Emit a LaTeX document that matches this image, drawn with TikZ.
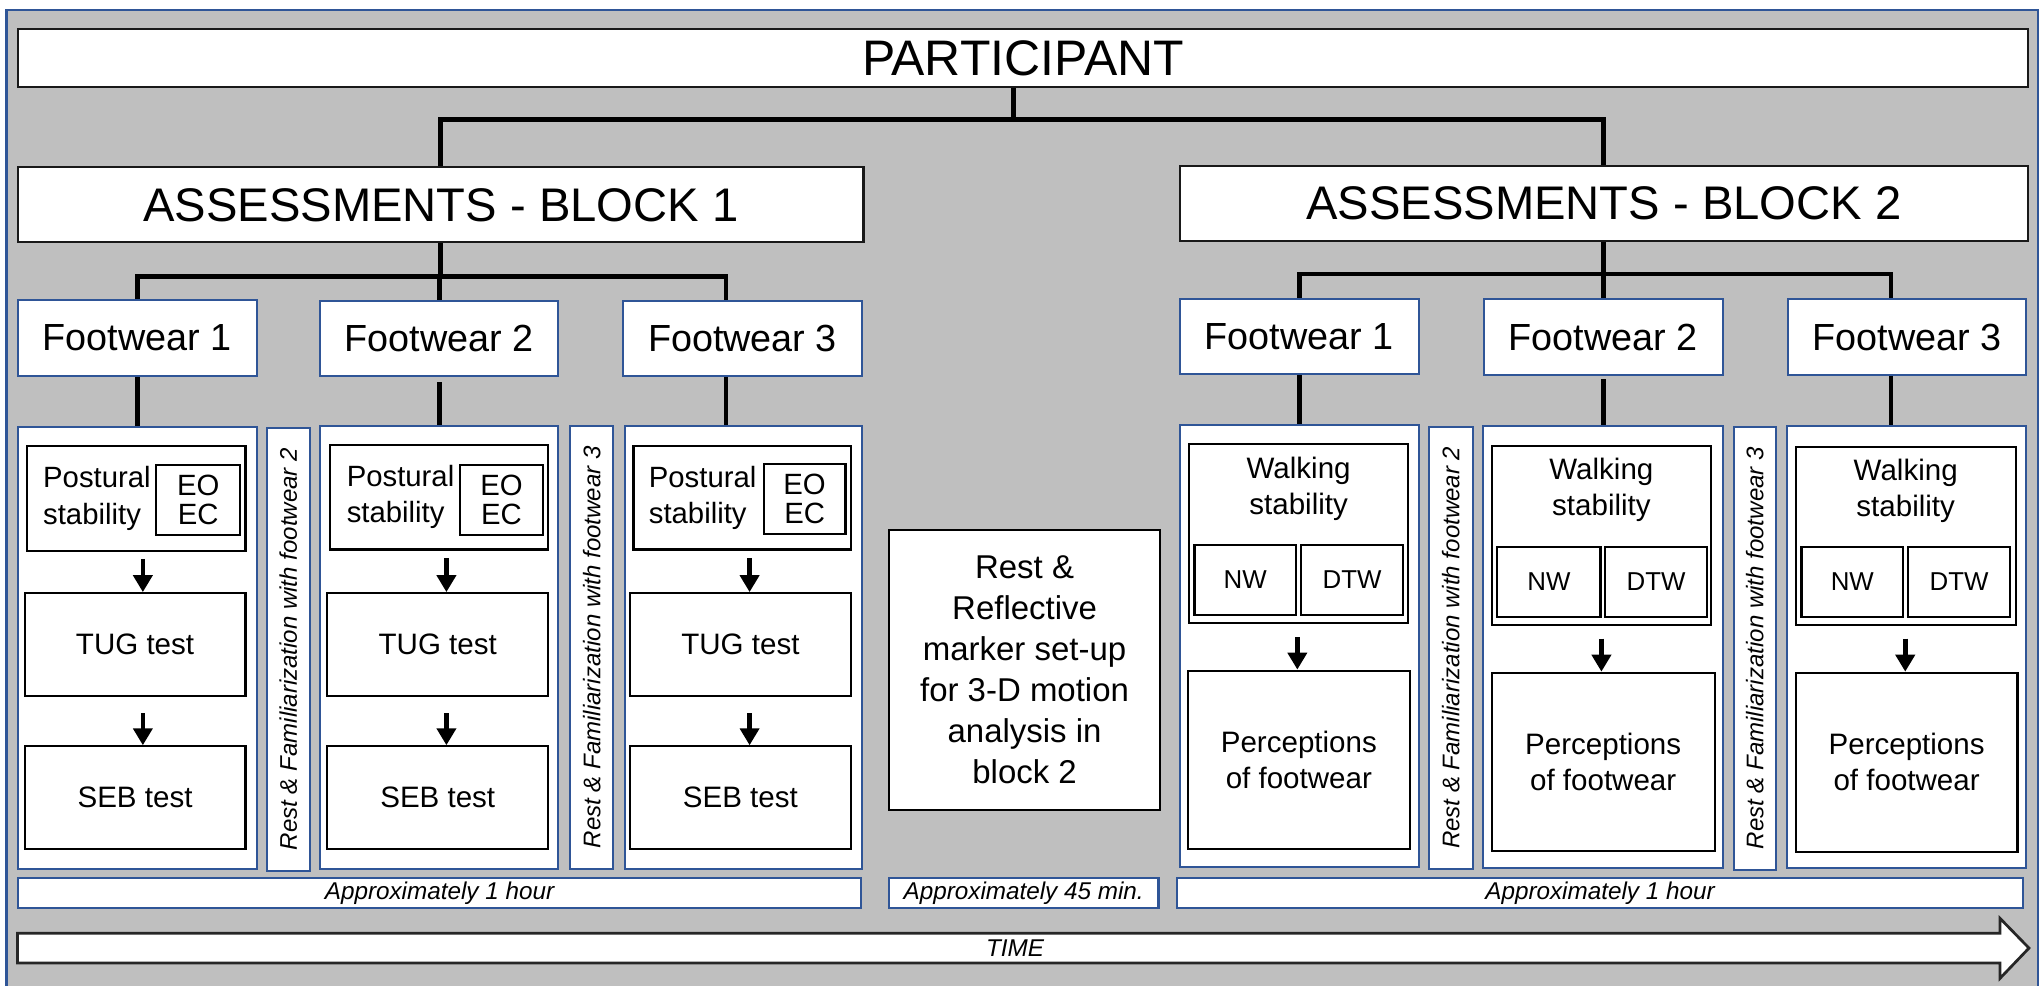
\documentclass[tikz,border=0pt]{standalone}
\usepackage{fontspec}
\setmainfont{Liberation Sans}
\usetikzlibrary{fit,arrows.meta}
\definecolor{panelgray}{HTML}{BFBFBF}
\definecolor{frameblue}{HTML}{2F5597}
\definecolor{arrowedge}{HTML}{262626}
% text label centred in an existing box node
\newcommand\boxtxt[3]{\node[txt,#1] (#2t) at (#2.center) {#3};}

\begin{document}
\begin{tikzpicture}[x=0.01cm,y=-0.01cm,
  blk/.style={draw=black, line width=0.48pt, fill=white, inner sep=0pt},
  hdr/.style={draw=black!90, line width=0.5pt, fill=white, inner sep=0pt},
  bl/.style={draw=frameblue, line width=0.45pt, fill=white, inner sep=0pt},
  txt/.style={inner sep=0pt},
  conn/.style={line width=1.05pt, line join=miter},
  arr/.style={line width=1pt, -{Triangle[width=1.45mm,length=1.3mm]}},
  fbig/.style={font=\fontsize{10.9}{13}\selectfont},
  fblock/.style={font=\fontsize{10.3}{12}\selectfont},
  fshoe/.style={font=\fontsize{8.25}{10}\selectfont},
  fmid/.style={font=\fontsize{7.2}{8.96}\selectfont, align=center},
  ftask/.style={font=\fontsize{6.45}{7.9}\selectfont, align=center},
  fpost/.style={font=\fontsize{6.4}{7.9}\selectfont, align=left},
  feye/.style={font=\fontsize{6.4}{6.5}\selectfont, align=center},
  fwalk/.style={font=\fontsize{5.65}{7}\selectfont},
  frest/.style={font=\fontsize{5.25}{6}\selectfont\itshape},
  ftime/.style={font=\fontsize{5.3}{6}\selectfont\itshape},
]
\useasboundingbox (0,0) rectangle (1568,757);

% grey panel with blue frame
\fill[panelgray] (5,7.5) rectangle (1565,770);
\draw[frameblue, line width=0.5pt] (5,770) -- (5,7.5) -- (1565,7.5) -- (1565,770);

% top of the hierarchy
\node[hdr, fit={(14,22) (1557,67)}] (part) {};
\boxtxt{fbig}{part}{PARTICIPANT}
\node[hdr, fit={(14,128.5) (663,186)}] (b1) {};
\boxtxt{fblock}{b1}{ASSESSMENTS - BLOCK 1}
\node[hdr, fit={(906,127.5) (1557,185)}] (b2) {};
\boxtxt{fblock}{b2}{ASSESSMENTS - BLOCK 2}

% footwear headers
\node[bl, fit={(14,230.5) (197,288.7)}] (f11) {};
\boxtxt{fshoe}{f11}{Footwear 1}
\node[bl, fit={(246,231) (428.5,289)}] (f12) {};
\boxtxt{fshoe}{f12}{Footwear 2}
\node[bl, fit={(478.6,230.9) (661.7,288.7)}] (f13) {};
\boxtxt{fshoe}{f13}{Footwear 3}
\node[bl, fit={(906,229.6) (1089.3,287.2)}] (f21) {};
\boxtxt{fshoe}{f21}{Footwear 1}
\node[bl, fit={(1139.7,229.6) (1322.7,288)}] (f22) {};
\boxtxt{fshoe}{f22}{Footwear 2}
\node[bl, fit={(1373.2,229.6) (1555.7,288)}] (f23) {};
\boxtxt{fshoe}{f23}{Footwear 3}

% session panels
\node[bl, fit={(13.7,327.8) (197,667.5)}] (c11) {};
\node[bl, fit={(204.8,328.3) (238,668.5)}] (r11) {};
\node[bl, fit={(246,327) (428.5,667)}] (c12) {};
\node[bl, fit={(438,327) (470.7,667)}] (r12) {};
\node[bl, fit={(479.6,327) (662,667)}] (c13) {};
\node[bl, fit={(905.9,326.3) (1089.3,665.5)}] (c21) {};
\node[bl, fit={(1097.2,327.6) (1131,667.3)}] (r21) {};
\node[bl, fit={(1138.8,327) (1322.7,666.8)}] (c22) {};
\node[bl, fit={(1331.5,327.8) (1363.5,667.7)}] (r22) {};
\node[bl, fit={(1372.2,327) (1555.7,666.8)}] (c23) {};

% rest breaks between footwear conditions
\node[txt, frest, rotate=90] (r11t) at (r11.center) {Rest \& Familiarization with footwear 2};
\node[txt, frest, rotate=90] (r12t) at (r12.center) {Rest \& Familiarization with footwear 3};
\node[txt, frest, rotate=90] (r21t) at (r21.center) {Rest \& Familiarization with footwear 2};
\node[txt, frest, rotate=90] (r22t) at (r22.center) {Rest \& Familiarization with footwear 3};

% block 1 tasks
\node[blk, fit={(20.6,342.5) (188.5,422.8)}] (p11) {};
\node[blk, fit={(120,356.8) (184.4,411)}] (e11) {};
\boxtxt{feye}{e11}{EO\\EC}
\node[txt, fpost, anchor=west] (p11t) at ([xshift=0.127cm]p11.west) {Postural\\stability};
\node[blk, fit={(18.9,455.5) (188.5,534.7)}] (t11) {};
\boxtxt{ftask}{t11}{TUG test}
\node[blk, fit={(18.9,573.1) (188.5,652.1)}] (s11) {};
\boxtxt{ftask}{s11}{SEB test}

\node[blk, fit={(253.7,341.6) (421,422)}] (p12) {};
\node[blk, fit={(353,356.8) (417.2,411)}] (e12) {};
\boxtxt{feye}{e12}{EO\\EC}
\node[txt, fpost, anchor=west] (p12t) at ([xshift=0.127cm]p12.west) {Postural\\stability};
\node[blk, fit={(251.3,455.5) (421,534.7)}] (t12) {};
\boxtxt{ftask}{t12}{TUG test}
\node[blk, fit={(251.3,573.1) (421,652.1)}] (s12) {};
\boxtxt{ftask}{s12}{SEB test}

\node[blk, fit={(486.4,342.2) (653.4,422)}] (p13) {};
\node[blk, fit={(586.5,356.2) (649.2,409.9)}] (e13) {};
\boxtxt{feye}{e13}{EO\\EC}
\node[txt, fpost, anchor=west] (p13t) at ([xshift=0.12cm]p13.west) {Postural\\stability};
\node[blk, fit={(483.7,455.5) (653.4,534.7)}] (t13) {};
\boxtxt{ftask}{t13}{TUG test}
\node[blk, fit={(483.7,573.1) (653.4,652.1)}] (s13) {};
\boxtxt{ftask}{s13}{SEB test}

% pause between blocks
\node[blk, fit={(682.5,406.7) (891,622)}] (mid) {};
\boxtxt{fmid}{mid}{Rest \&\\Reflective\\marker set-up\\for 3-D motion\\analysis in\\block 2}

% block 2 tasks
\node[blk, fit={(913,341.2) (1081.4,478.6)}] (w21) {};
\node[txt, ftask] (w21t) at ([yshift=-0.35cm]w21.north) {Walking\\stability};
\node[blk, fit={(917.3,418.5) (995,472.2)}] (n21) {};
\boxtxt{fwalk}{n21}{NW}
\node[blk, fit={(999.3,418.5) (1077.3,472.2)}] (d21) {};
\boxtxt{fwalk}{d21}{DTW}
\node[blk, fit={(912,515) (1082.7,652.2)}] (q21) {};
\boxtxt{ftask}{q21}{Perceptions\\of footwear}

\node[blk, fit={(1145.5,342.2) (1313.9,479.8)}] (w22) {};
\node[txt, ftask] (w22t) at ([yshift=-0.35cm]w22.north) {Walking\\stability};
\node[blk, fit={(1149.8,419.8) (1229,474)}] (n22) {};
\boxtxt{fwalk}{n22}{NW}
\node[blk, fit={(1232.6,419.8) (1310.8,474)}] (d22) {};
\boxtxt{fwalk}{d22}{DTW}
\node[blk, fit={(1145.5,516.6) (1316.6,653.2)}] (q22) {};
\boxtxt{ftask}{q22}{Perceptions\\of footwear}

\node[blk, fit={(1378.9,343) (1547.8,479.8)}] (w23) {};
\node[txt, ftask] (w23t) at ([yshift=-0.35cm]w23.north) {Walking\\stability};
\node[blk, fit={(1383.3,419.8) (1461.4,474)}] (n23) {};
\boxtxt{fwalk}{n23}{NW}
\node[blk, fit={(1465.3,419.8) (1543.4,474)}] (d23) {};
\boxtxt{fwalk}{d23}{DTW}
\node[blk, fit={(1378.9,516.6) (1549.2,654)}] (q23) {};
\boxtxt{ftask}{q23}{Perceptions\\of footwear}

% durations
\node[bl, fit={(14,674.5) (661,697)}] (dur1) {};
\boxtxt{ftime}{dur1}{Approximately 1 hour}
\node[bl, fit={(682.5,674) (889.6,697.4)}] (dur2) {};
\boxtxt{ftime}{dur2}{Approximately 45 min.}
\node[bl, fit={(903.7,674) (1553.5,697)}] (dur3) {};
\boxtxt{ftime}{dur3}{Approximately 1 hour}

% time axis
\draw[arrowedge, fill=white, line width=0.6pt, line join=miter]
  (13.5,716.7) -- (1535.8,716.7) -- (1535.8,705.2) -- (1558,728)
  -- (1535.8,751.2) -- (1535.8,739.5) -- (13.5,739.5) -- cycle;
\node[txt, ftime] (time) at (779.5,728.3) {TIME};

% hierarchy connectors
\coordinate (k0) at (778,91.6);
\draw[conn] (k0 |- part.south) -- (k0);
\draw[conn] (b1.north) |- (k0) -| (b2.north);

\coordinate (k1) at (557.5,212);
\draw[conn] (b1.south) -- (b1.south |- k1);
\draw[conn] (f11.north) |- (k1) -- (k1 |- f13.north);
\draw[conn] (f12.north) -- (f12.north |- k1);
\draw[conn] (f11.south) -- (f11.south |- c11.north);
\draw[conn, shorten <=0.036cm] (f12.south) -- (f12.south |- c12.north);
\draw[conn] (k1 |- f13.south) -- (k1 |- c13.north);

\coordinate (k2) at (1452,210.4);
\draw[conn] (b2.south) -- (b2.south |- k2);
\draw[conn] (f21.north) |- (k2) -- (k2 |- f23.north);
\draw[conn] (f22.north) -- (f22.north |- k2);
\draw[conn] (f21.south) -- (f21.south |- c21.north);
\draw[conn, shorten <=0.025cm] (f22.south) -- (f22.south |- c22.north);
\draw[conn] (k2 |- f23.south) -- (k2 |- c23.north);

% task order arrows
\coordinate (ax1) at (109.7,0);
\coordinate (ax2) at (342.8,0);
\coordinate (ax3) at (575.6,0);
\coordinate (ax4) at (996.2,0);
\coordinate (ax5) at (1229.7,0);
\coordinate (ax6) at (1463,0);
\draw[arr, shorten <=0.054cm] (ax1 |- p11.south) -- (ax1 |- t11.north);
\draw[arr, shorten <=0.12cm] (ax1 |- t11.south) -- (ax1 |- s11.north);
\draw[arr, shorten <=0.057cm] (ax2 |- p12.south) -- (ax2 |- t12.north);
\draw[arr, shorten <=0.12cm] (ax2 |- t12.south) -- (ax2 |- s12.north);
\draw[arr, shorten <=0.057cm] (ax3 |- p13.south) -- (ax3 |- t13.north);
\draw[arr, shorten <=0.12cm] (ax3 |- t13.south) -- (ax3 |- s13.north);
\draw[arr, shorten <=0.098cm] (ax4 |- w21.south) -- (ax4 |- q21.north);
\draw[arr, shorten <=0.098cm] (ax5 |- w22.south) -- (ax5 |- q22.north);
\draw[arr, shorten <=0.098cm] (ax6 |- w23.south) -- (ax6 |- q23.north);
\end{tikzpicture}
\end{document}
